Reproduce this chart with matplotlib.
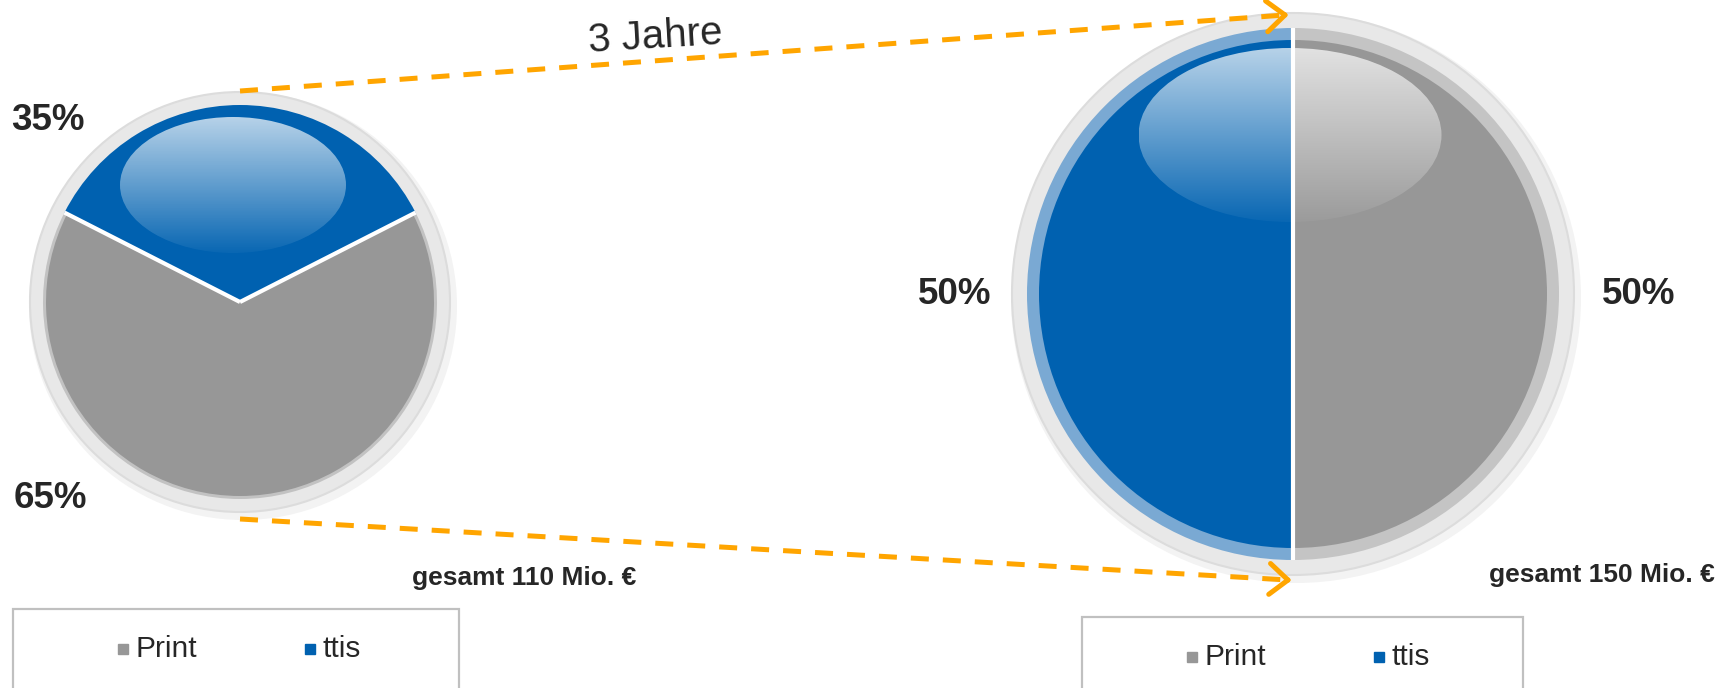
import numpy as np
import matplotlib.pyplot as plt
from matplotlib.patches import Circle, Ellipse, Rectangle

# chart data
categories = ["Print", "ttis"]
shares_before = [65, 35]
shares_after = [50, 50]
totals = [110, 150]
period_label = "3 Jahre"

fill_colors = ["#979797", "#0061B0"]
band_colors_after = ["#c4c4c4", "#7aa9d3"]
band_colors_before = ["#c2c2c2", "#0061B0"]
text_color = "#262626"
arrow_color = "#FFA500"

W, H = 1735, 688

plt.rcParams['font.family'] = ['Liberation Sans', 'DejaVu Sans']

fig = plt.figure(figsize=(W / 100, H / 100), dpi=100)
ax = fig.add_axes([0, 0, 1, 1])


def Y(y_px):
    # pixel rows are measured from the top of the picture
    return H - y_px


# layout of the two pies (pixel positions, from top-left)
pies = [
    dict(shares=shares_before, total=totals[0], cx=240, cy=302, r_fill=194, r_band=197, r_ring=210,
         start=90 - shares_before[1] * 1.8, bands=band_colors_before,
         hl=(233, 185, 226, 136),
         labels=[(50, 498), (48, 120)],
         total_pos=(524, 578),
         legend=(13, 609, 446)),
    dict(shares=shares_after, total=totals[1], cx=1293, cy=294, r_fill=254, r_band=266, r_ring=281,
         start=90, bands=band_colors_after,
         hl=(1290, 135, 303, 174),
         labels=[(1639, 295), (955, 295)],
         total_pos=(1602, 575),
         legend=(1082, 617, 441)),
]

for p in pies:
    cx, cy = p['cx'], Y(p['cy'])
    vals = p['shares'][::-1]
    cols = fill_colors[::-1]
    bands = p['bands'][::-1]

    # outer ring with soft shadow
    ax.add_patch(Circle((cx + 3, cy - 4), p['r_ring'] + 4, facecolor="#f3f3f3", edgecolor='none', zorder=1))
    ax.add_patch(Circle((cx, cy), p['r_ring'], facecolor="#e8e8e8", edgecolor="#dcdcdc", lw=1.5, zorder=2))

    # light band and fill
    w1, _ = ax.pie(vals, colors=bands, startangle=p['start'], center=(cx, cy), radius=p['r_band'],
                   counterclock=True, wedgeprops=dict(linewidth=0))
    w2, _ = ax.pie(vals, colors=cols, startangle=p['start'], center=(cx, cy), radius=p['r_fill'],
                   counterclock=True, wedgeprops=dict(linewidth=0))
    for w in w1:
        w.set_zorder(3)
    for w in w2:
        w.set_zorder(4)

    # glossy highlight
    hx, hy, hw, hh = p['hl']
    alpha = np.linspace(0.72, 0.04, 200)
    grad = np.ones((200, 1, 4))
    grad[:, 0, 3] = alpha
    im = ax.imshow(grad, extent=(hx - hw / 2, hx + hw / 2, Y(hy) - hh / 2, Y(hy) + hh / 2),
                   origin='upper', aspect='auto', zorder=5, interpolation='bilinear')
    im.set_clip_path(Ellipse((hx, Y(hy)), hw, hh, transform=ax.transData))

    # white separators between slices
    angles = p['start'] + 360 * np.cumsum([0] + vals[:-1]) / sum(vals)
    for a in angles:
        t = np.deg2rad(a)
        ax.plot([cx, cx + p['r_band'] * np.cos(t)], [cy, cy + p['r_band'] * np.sin(t)],
                color='white', lw=3, solid_capstyle='butt', zorder=6)

    # percentage labels
    for v, (lx, ly) in zip(p['shares'], p['labels']):
        ax.text(lx, Y(ly), f"{v}%", fontsize=26.5, fontweight='bold', color=text_color,
                ha='center', va='center', zorder=7)

    ax.text(p['total_pos'][0], Y(p['total_pos'][1]), f"gesamt {p['total']} Mio. €", fontsize=19,
            fontweight='bold', color=text_color, ha='center', va='center', zorder=7)

    # legend box
    lx0, ltop, lw_ = p['legend']
    ax.add_patch(Rectangle((lx0, -10), lw_, Y(ltop) + 10, facecolor='white', edgecolor="#c0c0c0",
                           lw=1.6, zorder=1))
    for name, col, off in zip(categories, fill_colors, [110, 297]):
        ax.plot(lx0 + off, Y(ltop + 40), marker='s', ms=7.5, color=col, linestyle='none', zorder=7)
        ax.text(lx0 + off + 12, Y(ltop + 40), name, fontsize=21.5, color=text_color,
                ha='left', va='center', zorder=7)

# dashed arrows linking the pies
links = [((240, 91), (1285, 15)), ((240, 519), (1288, 580))]
for (x0, y0), (x1, y1) in links:
    line, = ax.plot([x0, x1], [Y(y0), Y(y1)], color=arrow_color, lw=3.6, solid_capstyle='butt',
                    dash_capstyle='butt', zorder=8)
    line.set_dashes((3.6, 2.8))
    d = np.array([x1 - x0, Y(y1) - Y(y0)], dtype=float)
    d /= np.hypot(*d)
    for sgn in (1, -1):
        th = np.deg2rad(40 * sgn)
        rot = np.array([[np.cos(th), -np.sin(th)], [np.sin(th), np.cos(th)]])
        arm = rot @ (-d) * 24
        ax.plot([x1 + arm[0], x1], [Y(y1) + arm[1], Y(y1)], color=arrow_color, lw=3.6,
                solid_capstyle='round', zorder=8)

ax.text(655, Y(37), period_label, fontsize=29, color=text_color, ha='center', va='center',
        rotation=3.5, zorder=8)

ax.set_xlim(0, W)
ax.set_ylim(0, H)
ax.set_aspect('equal')
ax.axis('off')

fig.savefig("out.png", dpi=100, facecolor='white')
